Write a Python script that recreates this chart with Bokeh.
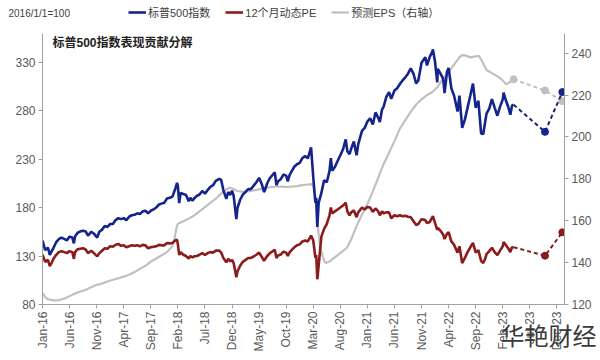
import math
from bokeh.plotting import figure
from bokeh.layouts import column
from bokeh.models import Range1d, LinearAxis, FixedTicker, Legend, LegendItem, Label, GridBox
from bokeh.embed import file_html
from bokeh.resources import INLINE

# ---------------- data (months since Jan-2016) ----------------
tick_months = [0, 5, 10, 15, 20, 25, 30, 35, 40, 45, 50, 55, 60, 65, 70, 75, 80, 85, 90, 95]
tick_labels = ["Jan-16", "Jun-16", "Nov-16", "Apr-17", "Sep-17", "Feb-18", "Jul-18", "Dec-18",
               "May-19", "Oct-19", "Mar-20", "Aug-20", "Jan-21", "Jun-21", "Nov-21", "Apr-22",
               "Sep-22", "Feb-23", "Jul-23", "Dec-23"]

month = [
    0, 0.5, 1, 1.35, 1.7, 2, 2.5, 3, 3.5, 4, 4.5, 5, 5.5, 5.8, 6, 6.5, 7, 7.5, 8, 8.4, 9, 9.5, 10.1, 10.5, 11, 11.5,
    12, 12.5, 13, 13.5, 14, 14.5, 15, 15.5, 16, 16.5, 17, 17.5, 18, 18.5, 19, 19.5, 20, 20.5, 21, 21.5, 22, 22.5, 23, 23.5,
    24, 24.5, 24.85, 25, 25.25, 25.5, 26, 26.5, 27, 27.3, 27.7, 28, 28.5, 29, 29.5, 30, 30.5, 31, 31.5, 32, 32.65, 33, 33.4, 33.95, 34.3, 34.7, 35, 35.3, 35.8,
    36, 36.5, 37, 37.5, 38, 38.5, 39, 39.5, 40, 40.5, 40.9, 41, 41.5, 42, 42.9, 43.2, 43.5, 44, 44.5, 45, 45.3, 45.6, 46, 46.5, 47, 47.5,
    48, 48.5, 49, 49.6, 50, 50.4, 50.55, 50.75, 51, 51.5, 52, 52.5, 53, 53.25, 53.5, 54, 54.5, 55, 55.5, 56, 56.3, 56.7, 57, 57.5, 58, 58.3, 59, 59.5,
    60, 60.5, 61, 61.5, 62, 62.3, 62.7, 63, 63.5, 64, 64.4, 65, 65.5, 66, 66.5, 67, 67.5, 68, 68.5, 69, 69.4, 70, 70.7, 71, 71.5,
    72, 72.1, 72.5, 72.9, 73, 73.5, 74, 74.25, 74.7, 75, 75.5, 76, 76.65, 77, 77.5, 78, 78.5, 79, 79.5, 80, 80.5, 81, 81.4, 81.8, 82, 82.5, 83, 83.5,
    84, 84.5, 85, 85.15, 85.6, 86, 86.4, 86.7, 87,
]

spx = [
    146, 136, 138.7, 131, 135, 138, 144, 147.3, 149, 147.6, 146, 150, 149, 143, 150, 154, 155.4, 156, 155.2, 151, 155, 153, 149, 155, 157.2, 161,
    160, 163, 163, 167, 169, 168, 169, 167, 170.5, 172, 172.5, 174, 173.2, 176, 176.6, 174, 176.7, 178, 180, 183, 184, 185, 189.3, 190,
    191.2, 199, 205.4, 202, 184.5, 195, 194, 193, 186.5, 190, 187, 189.3, 192, 193.4, 197, 194.3, 198, 201.3, 203, 207.5, 209.5, 208.4, 198, 189, 196, 193, 197.3, 192, 168.1,
    179.3, 188, 193.3, 196, 199, 199, 202.6, 206, 210.6, 204, 196.2, 196.8, 205, 210.4, 216.3, 203, 207, 209.2, 214, 212.9, 207, 213, 217.2, 222, 224.6, 226,
    231, 233, 230.7, 242.1, 211.2, 185, 190, 160, 184.8, 195, 208.2, 206, 217.6, 231, 218, 221.7, 228, 233.9, 240, 250.3, 238, 235, 240.5, 248, 233.8, 245, 259, 262,
    268.6, 272, 265.6, 278, 272.5, 268, 281, 284, 294, 299, 292, 300.6, 303, 307.3, 311, 314.2, 318, 323.4, 318, 308, 311, 329.3, 335, 326.5, 335,
    340.8, 343, 330, 309, 322.9, 318, 312.7, 298, 320, 323.9, 303, 295.4, 279, 295.4, 262.2, 270.6, 283, 295.3, 307.8, 282.8, 290, 256.4, 255.8, 270, 276.8, 282, 291.7, 283,
    274.6, 284, 291.5, 298.5, 290, 283.9, 275.6, 285, 286,
]

pe = [
    131.3, 124, 126, 119.5, 123, 127, 131, 134, 135, 134, 133, 135, 134, 127, 134, 137, 137.5, 138, 136.5, 133, 135.5, 133, 129.6, 133, 135.5, 138,
    137.5, 140, 139.5, 141.7, 142.5, 140.5, 141, 139, 140, 141, 140.5, 141, 140, 141.5, 141, 138, 139, 139.5, 140, 141.5, 141, 141, 143.5, 143,
    143.5, 146, 146.8, 142, 131, 134, 131.3, 130, 127.5, 130, 128.5, 129.6, 130, 131.3, 133, 131, 133, 134, 133.5, 135.5, 135.5, 133.5, 128, 123.5, 127, 124.4, 126, 122.7, 108,
    114, 120, 124, 126, 128, 128, 129.5, 131.3, 133.5, 129, 125, 126, 130, 133, 136.5, 128, 130.5, 131.5, 134.5, 133.5, 130, 133.5, 136, 139, 141, 142,
    145, 146, 145, 151, 146, 128, 131, 106, 120, 150, 158, 163, 172, 180, 174, 176, 178, 180, 182, 185, 176, 172, 175, 177, 170, 175, 180, 178,
    180.5, 180, 175.5, 179, 176, 172, 176, 174, 175, 175, 169, 172, 171, 172, 171, 171.5, 170.5, 170, 166, 162, 163, 168, 167, 164, 165,
    170, 171, 164, 157, 159, 156, 152, 147.5, 153, 154.5, 145, 141.7, 133.5, 140, 122.7, 128, 134, 139, 143.5, 133.5, 136, 125, 122.7, 128, 132, 135, 138.5, 134,
    131, 135.5, 140, 144.5, 141, 138, 134, 139, 139,
]

eps_month = [
    0, 0.5, 1, 2, 3, 4, 5, 6, 7, 8, 9, 10, 11, 12, 13, 14, 15, 16, 17, 18, 19, 20, 21, 22, 23, 24, 24.4, 24.8,
    25, 26, 27, 28, 29, 30, 31, 32, 33, 34, 34.6, 35, 36, 37, 38, 39, 40, 41, 42, 43, 44, 45, 46, 47, 48, 49,
    49.8, 50.1, 50.5, 50.8, 51.3, 52, 52.3, 53, 53.8, 55, 56.2, 57, 58, 59, 60, 61, 62, 62.5,
    63, 64, 65, 66, 67, 68, 69, 70, 71, 72, 73, 74, 75, 76, 77, 77.5, 78, 79, 80, 80.6, 81, 82, 83, 84, 85, 85.6, 86.2, 87,
]
eps = [
    125.4, 123.5, 122.5, 122, 122, 122.8, 124, 125.2, 126.2, 127, 128.2, 129.4, 130, 131, 131.8, 132.5, 133.3, 134.2, 135.5, 137, 138.5, 140.5, 142, 143.5, 145, 148, 151.7, 157.3,
    158.5, 159.7, 161, 162.5, 164.5, 166.5, 168.5, 170.5, 173, 175, 175.7, 175.5, 174.2, 173.8, 174, 174.5, 175, 175.5, 176, 176.3, 176.3, 176.2, 176.3, 176.5, 177, 177.3,
    177.5, 175.7, 168, 158, 147, 141, 139.8, 140.5, 142.2, 144.5, 147, 151, 157.5, 163, 168, 174, 180.5, 184,
    187, 192.5, 198, 204, 208, 212, 215.5, 218, 220, 221.5, 224, 228, 231, 234.5, 238, 239.1, 239, 238, 238.5, 238.7, 237, 232, 230.5, 229, 227, 225.1, 226, 227.5,
]

# forecasts (dashed)
fc_month = [87, 92.8, 96]
spx_fc = [286, 258, 299]
pe_fc = [139, 130.3, 154.4]
eps_fc = [227.5, 222.2, 217.1]

legend_labels = ["标普500指数", "12个月动态PE", "预测EPS（右轴）"]
base_note = "2016/1/1=100"
chart_title = "标普500指数表现贡献分解"
watermark = "华艳财经"

# ---------------- styling ----------------
BLUE = "#15248C"
BLUE_D = "#1B2566"
RED = "#8C1B1B"
RED_D = "#7A2020"
GRAY = "#C0C0C0"
AXIS = "#A0A0A0"
TXT = "#595959"
FONT = "Liberation Sans, Noto Sans CJK SC"

p = figure(width=600, height=360, output_backend="svg", toolbar_location=None,
           x_range=Range1d(0, 96.4), y_range=Range1d(80, 359.4),
           min_border_left=42, min_border_right=36, min_border_top=33, min_border_bottom=56)
p.extra_y_ranges = {"eps": Range1d(120, 249.4)}
p.outline_line_color = None
p.grid.visible = False
p.background_fill_color = "white"
p.border_fill_color = "white"

def style_axis(ax):
    ax.axis_line_color = AXIS
    ax.major_tick_line_color = AXIS
    ax.minor_tick_line_color = None
    ax.major_tick_in = 0
    ax.major_tick_out = 4
    ax.major_label_text_color = TXT
    ax.major_label_text_font = FONT
    ax.major_label_text_font_size = "12px"
    ax.major_label_standoff = 3

xa = p.xaxis[0]
xa.ticker = FixedTicker(ticks=tick_months)
xa.major_label_overrides = {m: lab for m, lab in zip(tick_months, tick_labels)}
xa.major_label_orientation = math.pi / 2
style_axis(xa)

ya = p.yaxis[0]
ya.ticker = FixedTicker(ticks=[80, 130, 180, 230, 280, 330])
style_axis(ya)

ra = LinearAxis(y_range_name="eps", ticker=FixedTicker(ticks=[120, 140, 160, 180, 200, 220, 240]))
style_axis(ra)
p.add_layout(ra, "right")

# lines
p.line(eps_month, eps, y_range_name="eps", line_color=GRAY, line_width=2.2)
p.line(month, pe, line_color=RED, line_width=2.6)
p.line(month, spx, line_color=BLUE, line_width=2.6)

p.line(fc_month, eps_fc, y_range_name="eps", line_color=GRAY, line_width=2, line_dash="4 3")
p.scatter(fc_month, eps_fc, y_range_name="eps", size=7, color=GRAY)
p.line(fc_month, pe_fc, line_color=RED_D, line_width=2, line_dash="4 3")
p.scatter(fc_month[1:], pe_fc[1:], size=7, color=RED)
p.line(fc_month, spx_fc, line_color=BLUE_D, line_width=2, line_dash="4 3")
p.scatter(fc_month[1:], spx_fc[1:], size=7, color=BLUE)

p.add_layout(Label(x=10, y=262, x_units="screen", y_units="screen", text=chart_title,
                   text_font=FONT, text_font_size="12px", text_font_style="bold",
                   text_color="#222222", text_baseline="middle"))

# ---------------- transparent overlay for texts outside the plot frame ----------------
q = figure(width=600, height=360, output_backend="svg", toolbar_location=None,
           x_range=Range1d(0, 600), y_range=Range1d(0, 360),
           x_axis_type=None, y_axis_type=None, min_border=0)
q.grid.visible = False
q.outline_line_color = None
q.background_fill_alpha = 0
q.border_fill_alpha = 0

# legend proxies (kept off-screen; only their legend glyphs are seen)
off_x = [-20, -10]
off_y = [-20, -20]
lb = q.line(off_x, off_y, line_color=BLUE, line_width=2.6)
lr = q.line(off_x, off_y, line_color=RED, line_width=2.6)
lg = q.line(off_x, off_y, line_color=GRAY, line_width=2.2)
legend = Legend(items=[
    LegendItem(label=legend_labels[0], renderers=[lb]),
    LegendItem(label=legend_labels[1], renderers=[lr]),
    LegendItem(label=legend_labels[2], renderers=[lg]),
], orientation="horizontal", location=(128, 340))
legend.label_text_font = FONT
legend.label_text_font_size = "11px"
legend.label_text_color = "#404040"
legend.glyph_width = 18
legend.glyph_height = 12
legend.label_height = 12
legend.label_standoff = 2
legend.spacing = 15
legend.padding = 0
legend.margin = 0
legend.border_line_color = None
legend.background_fill_alpha = 0
q.add_layout(legend)

q.add_layout(Label(x=8, y=347, x_units="screen", y_units="screen", text=base_note,
                   text_font=FONT, text_font_size="10px", text_color="#404040", text_baseline="middle"))
q.add_layout(Label(x=500, y=26, x_units="screen", y_units="screen", text=watermark,
                   text_font="Noto Sans CJK SC", text_font_size="24px",
                   text_color="#3a3a3a", text_baseline="middle"))

layout = GridBox(children=[(p, 0, 0), (column(q), 0, 0)])
open("out.html", "w").write(file_html(layout, INLINE))
